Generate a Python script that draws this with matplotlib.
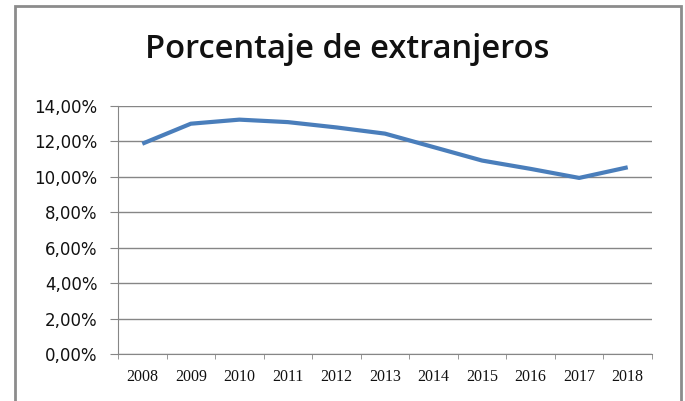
import matplotlib
matplotlib.use("Agg")
from matplotlib import pyplot as plt
from matplotlib.patches import Rectangle
import numpy as np

years = ['2008', '2009', '2010', '2011', '2012', '2013', '2014', '2015', '2016', '2017', '2018']
pct = [11.87, 13.00, 13.23, 13.09, 12.79, 12.44, 11.68, 10.92, 10.45, 9.94, 10.54]
yticks = [0, 2, 4, 6, 8, 10, 12, 14]

fig = plt.figure(figsize=(6.85, 4.01), dpi=100)
# outer chart frame
fig.patches.append(Rectangle((15 / 685, -0.05), (681 - 15) / 685, 1.05 - 6 / 401,
                             transform=fig.transFigure, fill=False,
                             edgecolor='#8c8c8c', linewidth=2))

ax = fig.add_axes([118 / 685, 1 - 354 / 401, (652 - 118) / 685, (354 - 106) / 401])
x = np.arange(len(years))
ax.plot(x, pct, color='#4a7ebb', linewidth=3, solid_capstyle='butt', zorder=3)

ax.set_xlim(-0.5, len(years) - 0.5)
ax.set_ylim(0, 14)
ax.set_yticks(yticks)
ax.set_yticklabels(['%d,00%%' % v for v in yticks], fontsize=12,
                   family='DejaVu Sans', color='#111111')
ax.yaxis.grid(True, color='#868686', linewidth=1)
ax.tick_params(axis='y', length=5.8, color='#868686', pad=9)

ax.set_xticks(x)
ax.set_xticklabels(years, fontsize=11.5, family='Liberation Serif', color='#111111')
ax.set_xticks(np.arange(len(years) + 1) - 0.5, minor=True)
ax.tick_params(axis='x', which='major', length=0, pad=11)
ax.tick_params(axis='x', which='minor', length=3.6, color='#868686')

for s in ['top', 'right']:
    ax.spines[s].set_visible(False)
for s in ['left', 'bottom']:
    ax.spines[s].set_color('#868686')

fig.text(347 / 685, 1 - 50 / 401, 'Porcentaje de extranjeros', ha='center', va='center',
         fontsize=23.5, family='Open Sans', weight='semibold', color='#111111')

fig.savefig('out.png', dpi=100)
